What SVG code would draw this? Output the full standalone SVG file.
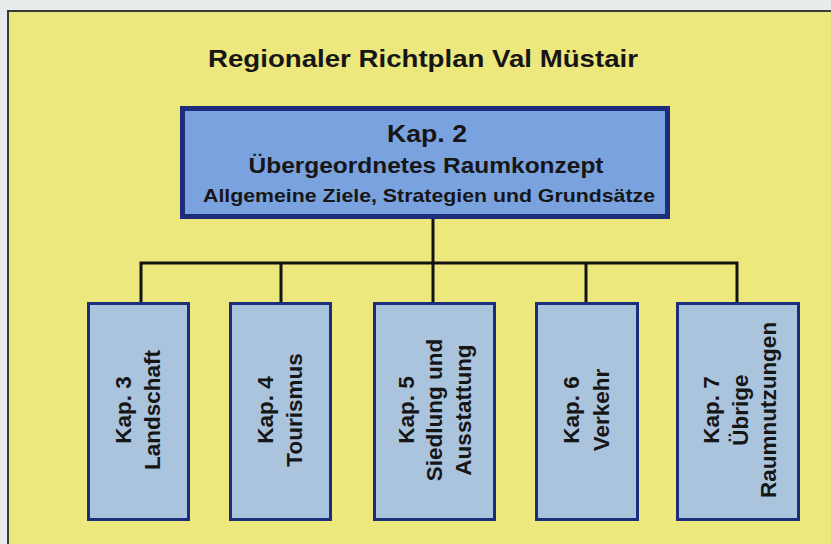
<svg xmlns="http://www.w3.org/2000/svg" width="831" height="544" viewBox="0 0 831 544">
<style>
text{font-family:"Liberation Sans",Arial,Helvetica,sans-serif;font-weight:bold;fill:#161616;text-anchor:middle}
.top{fill:#7aa2df;stroke:#1c2d7c;stroke-width:5}
.child{fill:#abc4dd;stroke:#1c2d7c;stroke-width:3}
.conn{stroke:#121212;stroke-width:3;fill:none;stroke-linecap:square}
.ct{font-size:22.5px}
</style>
<rect x="0" y="0" width="831" height="544" fill="#e8ebec"/>
<rect id="frame" x="8" y="11" width="840" height="560" fill="#ece87e" stroke="#3a3a3a" stroke-width="2"/>
<text id="title" x="423" y="67" font-size="24" textLength="430" lengthAdjust="spacingAndGlyphs">Regionaler Richtplan Val Müstair</text>
<g id="connectors">
<path class="conn" d="M433 219 V263 M141 263 H737 M141 263 V302 M281 263 V302 M433 263 V302 M586 263 V302 M737 263 V302"/>
</g>
<g id="kap2">
<rect class="top" x="182.5" y="108.5" width="485" height="108"/>
<text x="427" y="142" font-size="23" textLength="80" lengthAdjust="spacingAndGlyphs">Kap. 2</text>
<text x="426" y="173" font-size="22" textLength="355" lengthAdjust="spacingAndGlyphs">Übergeordnetes Raumkonzept</text>
<text x="429" y="202" font-size="18.5" textLength="452" lengthAdjust="spacingAndGlyphs">Allgemeine Ziele, Strategien und Grundsätze</text>
</g>
<g id="kap3">
<rect class="child" x="88.5" y="303.5" width="100" height="216"/>
<text class="ct" transform="translate(138.5,410) rotate(-90)"><tspan x="0" y="-8">Kap. 3</tspan><tspan x="0" y="21.5">Landschaft</tspan></text>
</g>
<g id="kap4">
<rect class="child" x="230.5" y="303.5" width="100" height="216"/>
<text class="ct" transform="translate(280.5,410) rotate(-90)"><tspan x="0" y="-8">Kap. 4</tspan><tspan x="0" y="21.5">Tourismus</tspan></text>
</g>
<g id="kap5">
<rect class="child" x="374.5" y="303.5" width="120" height="216"/>
<text class="ct" transform="translate(434.5,410) rotate(-90)"><tspan x="0" y="-21">Kap. 5</tspan><tspan x="0" y="7.5">Siedlung und</tspan><tspan x="0" y="36">Ausstattung</tspan></text>
</g>
<g id="kap6">
<rect class="child" x="536.5" y="303.5" width="101" height="216"/>
<text class="ct" transform="translate(587,410) rotate(-90)"><tspan x="0" y="-8">Kap. 6</tspan><tspan x="0" y="21.5">Verkehr</tspan></text>
</g>
<g id="kap7">
<rect class="child" x="677.5" y="303.5" width="121" height="216"/>
<text class="ct" transform="translate(739,410) rotate(-90)"><tspan x="0" y="-20">Kap. 7</tspan><tspan x="0" y="8.5">Übrige</tspan><tspan x="0" y="37">Raumnutzungen</tspan></text>
</g>
</svg>
